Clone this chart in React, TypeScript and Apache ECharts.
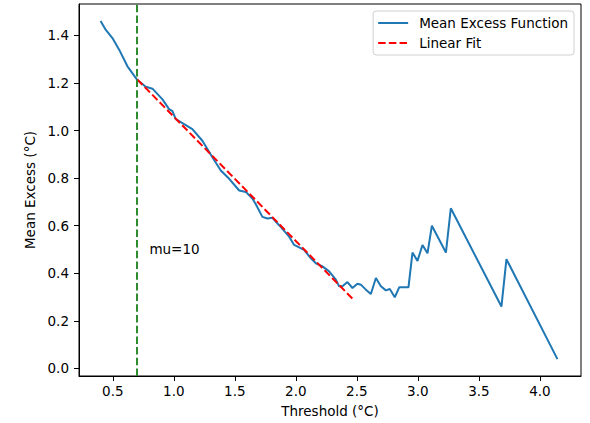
import React, { useEffect, useRef } from "react";
import * as echarts from "echarts";

const thresholds = [
  0.40, 0.443, 0.497, 0.552, 0.620, 0.697, 0.770, 0.825, 0.907, 0.961, 0.989, 1.016,
  1.098, 1.152, 1.234, 1.316, 1.385, 1.454, 1.536, 1.590, 1.644, 1.672, 1.726, 1.767,
  1.808, 1.863, 1.945, 1.986, 2.027, 2.068, 2.123, 2.164, 2.218, 2.273, 2.328, 2.355,
  2.382, 2.423, 2.464, 2.505, 2.533, 2.574, 2.615, 2.656, 2.697, 2.738, 2.770, 2.811,
  2.847, 2.923, 2.956, 2.997, 3.038, 3.079, 3.115, 3.230, 3.270, 3.685, 3.726, 4.144,
];
const meanExcess = [
  1.461, 1.423, 1.389, 1.340, 1.270, 1.215, 1.184, 1.176, 1.131, 1.090, 1.082, 1.048,
  1.023, 1.006, 0.957, 0.888, 0.832, 0.797, 0.748, 0.742, 0.714, 0.690, 0.637, 0.630,
  0.633, 0.602, 0.554, 0.519, 0.509, 0.498, 0.463, 0.442, 0.429, 0.408, 0.373, 0.345,
  0.345, 0.363, 0.338, 0.356, 0.352, 0.331, 0.313, 0.380, 0.345, 0.328, 0.334, 0.299,
  0.341, 0.341, 0.487, 0.452, 0.519, 0.484, 0.600, 0.487, 0.673, 0.260, 0.459, 0.039,
];
const fitX = [0.7, 2.47];
const fitY = [1.215, 0.29];
const muLine = 0.7;
const muLabel = "mu=10";
const muLabelPos = [0.8, 0.5];
const xTicks = [0.5, 1.0, 1.5, 2.0, 2.5, 3.0, 3.5, 4.0];
const yTicks = [0.0, 0.2, 0.4, 0.6, 0.8, 1.0, 1.2, 1.4];

const FONT = "DejaVu Sans";
const FS = 13.5;

export default function App() {
  const ref = useRef<HTMLDivElement>(null);
  useEffect(() => {
    document.body.style.margin = "0";
    const chart = echarts.init(ref.current!, null, { renderer: "svg" });
    const dash = [7.5, 3.2];
    chart.setOption({
      animation: false,
      backgroundColor: "#fff",
      textStyle: { fontFamily: FONT },
      grid: {
        left: 79,
        top: 4,
        right: 9,
        bottom: 45,
        show: true,
        borderColor: "#000",
        borderWidth: 1,
        backgroundColor: "transparent",
      },
      legend: {
        right: 16,
        top: 11,
        orient: "vertical",
        align: "left",
        itemWidth: 30,
        itemHeight: 14,
        itemGap: 6,
        padding: [5, 6, 5, 4],
        backgroundColor: "#fff",
        borderColor: "#d0d0d0",
        borderWidth: 1,
        borderRadius: 3,
        itemStyle: { opacity: 0 },
        textStyle: { fontFamily: FONT, fontSize: FS, color: "#000", padding: [0, 0, 0, 6] },
        data: ["Mean Excess Function", "Linear Fit"],
      },
      xAxis: {
        type: "value",
        min: 0.223,
        max: 4.337,
        name: "Threshold (°C)",
        nameLocation: "middle",
        nameGap: 28,
        nameTextStyle: { fontFamily: FONT, fontSize: FS, color: "#000" },
        splitLine: { show: false },
        axisLine: { show: true, onZero: false, lineStyle: { color: "#000", width: 1 } },
        axisTick: { show: true, length: 5, customValues: xTicks, lineStyle: { color: "#000" } },
        axisLabel: {
          customValues: xTicks,
          margin: 8,
          fontFamily: FONT,
          fontSize: FS,
          color: "#000",
          formatter: (v: number) => v.toFixed(1),
        },
      },
      yAxis: {
        type: "value",
        min: -0.032,
        max: 1.532,
        name: "Mean Excess (°C)",
        nameLocation: "middle",
        nameGap: 39,
        nameTextStyle: { fontFamily: FONT, fontSize: FS, color: "#000" },
        splitLine: { show: false },
        axisLine: { show: true, onZero: false, lineStyle: { color: "#000", width: 1 } },
        axisTick: { show: true, length: 5, customValues: yTicks, lineStyle: { color: "#000" } },
        axisLabel: {
          customValues: yTicks,
          margin: 10,
          fontFamily: FONT,
          fontSize: FS,
          color: "#000",
          formatter: (v: number) => v.toFixed(1),
        },
      },
      series: [
        {
          name: "Mean Excess Function",
          type: "line",
          symbol: "none",
          data: thresholds.map((x, i) => [x, meanExcess[i]]),
          lineStyle: { color: "#1f77b4", width: 2 },
          itemStyle: { color: "#1f77b4" },
          z: 3,
        },
        {
          name: "Linear Fit",
          type: "line",
          symbol: "none",
          data: fitX.map((x, i) => [x, fitY[i]]),
          lineStyle: { color: "#ff0000", width: 2, type: dash },
          itemStyle: { color: "#ff0000" },
          z: 4,
        },
        {
          name: "mu",
          type: "line",
          data: [],
          symbol: "none",
          markLine: {
            silent: true,
            symbol: ["none", "none"],
            label: { show: false },
            lineStyle: { color: "#2e8b2e", width: 2, type: dash },
            data: [{ xAxis: muLine }],
          },
          markPoint: {
            silent: true,
            symbol: "circle",
            symbolSize: 0,
            itemStyle: { color: "transparent" },
            label: {
              show: true,
              position: "right",
              distance: 0,
              formatter: muLabel,
              fontFamily: FONT,
              fontSize: FS,
              color: "#000",
            },
            data: [{ coord: muLabelPos }],
          },
        },
      ],
    });
    return () => chart.dispose();
  }, []);
  return <div ref={ref} style={{ width: 590, height: 423 }} />;
}
